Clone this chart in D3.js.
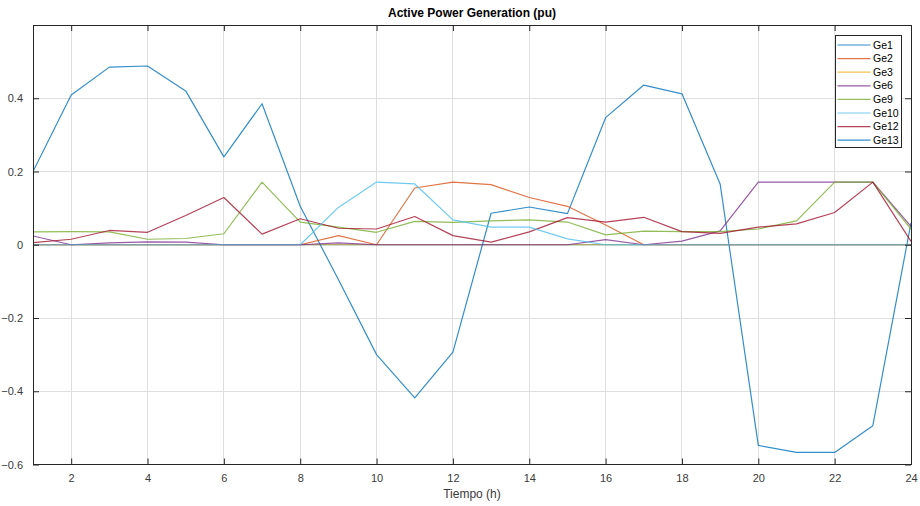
<!DOCTYPE html>
<html>
<head>
<meta charset="utf-8">
<script src="https://cdn.jsdelivr.net/npm/d3@7"></script>
<style>
  html, body { margin: 0; padding: 0; background: #ffffff; }
  svg { display: block; font-family: "Liberation Sans", Arial, Helvetica, sans-serif; }
</style>
</head>
<body>
<svg id="chart" width="920" height="506"></svg>
<script>
// ---- data ----
const hours = d3.range(1, 25);
const seriesNames = ["Ge1", "Ge2", "Ge3", "Ge6", "Ge9", "Ge10", "Ge12", "Ge13"];
const ge1  = [0.200, 0.409, 0.485, 0.488, 0.420, 0.240, 0.385, 0.105, -0.095, -0.300, -0.418, -0.293, 0.086, 0.103, 0.085, 0.347, 0.436, 0.412, 0.166, -0.548, -0.567, -0.567, -0.494, 0.060];
const ge2  = [0, 0, 0, 0, 0, 0, 0, 0, 0.025, 0, 0.155, 0.171, 0.164, 0.129, 0.105, 0.054, 0, 0, 0, 0, 0, 0, 0, 0];
const ge3  = [0, 0, 0, 0, 0, 0, 0, 0, 0, 0, 0, 0, 0, 0, 0, 0, 0, 0, 0, 0, 0, 0, 0, 0];
const ge6  = [0.024, 0, 0.005, 0.008, 0.007, 0, 0, 0, 0.005, 0, 0, 0, 0, 0, 0, 0.014, 0, 0.010, 0.038, 0.171, 0.171, 0.171, 0.171, 0.050];
const ge9  = [0.035, 0.036, 0.035, 0.015, 0.017, 0.030, 0.171, 0.062, 0.048, 0.034, 0.064, 0.061, 0.065, 0.068, 0.062, 0.027, 0.037, 0.036, 0.036, 0.043, 0.065, 0.171, 0.171, 0.043];
const ge10 = [0, 0, 0, 0, 0, 0, 0, 0, 0.102, 0.171, 0.166, 0.068, 0.048, 0.048, 0.016, 0, 0, 0, 0, 0, 0, 0, 0, 0];
const ge12 = [0.006, 0.015, 0.039, 0.034, 0.080, 0.129, 0.029, 0.071, 0.045, 0.043, 0.077, 0.025, 0.007, 0.035, 0.074, 0.062, 0.075, 0.036, 0.031, 0.048, 0.057, 0.088, 0.171, 0.009];
const ge13 = [0, 0, 0, 0, 0, 0, 0, 0, 0, 0, 0, 0, 0, 0, 0, 0, 0, 0, 0, 0, 0, 0, 0, 0];
const seriesValues = [ge1, ge2, ge3, ge6, ge9, ge10, ge12, ge13];
const seriesColors = ["#0072BD", "#D95319", "#EDB120", "#7E2F8E", "#77AC30", "#4DBEEE", "#A2142F", "#0072BD"];
const drawOrder = [7, 2, 0, 1, 3, 4, 6, 5];
const xTicks = d3.range(2, 25, 2);
const yTicks = [-0.6, -0.4, -0.2, 0, 0.2, 0.4];
const titleText = "Active Power Generation (pu)";
const xLabelText = "Tiempo (h)";

// ---- layout ----
const svg = d3.select("#chart");
const pL = 33, pR = 911, pT = 25, pB = 464.5;
const x = d3.scaleLinear().domain([1, 24]).range([pL, pR]);
const y = d3.scaleLinear().domain([-0.6, 0.6]).range([pB, pT]);
const axisColor = "#262626";

// grid
const grid = svg.append("g");
grid.selectAll("line.gx").data(xTicks).join("line")
  .attr("x1", d => x(d)).attr("x2", d => x(d)).attr("y1", pT).attr("y2", pB)
  .attr("stroke", "#dfdfdf").attr("stroke-width", 1).attr("shape-rendering", "crispEdges");
grid.selectAll("line.gy").data(yTicks).join("line")
  .attr("x1", pL).attr("x2", pR).attr("y1", d => y(d)).attr("y2", d => y(d))
  .attr("stroke", "#dfdfdf").attr("stroke-width", 1).attr("shape-rendering", "crispEdges");

// lines
svg.append("clipPath").attr("id", "clip").append("rect")
  .attr("x", pL).attr("y", pT).attr("width", pR - pL).attr("height", pB - pT);
const line = d3.line().x((d, i) => x(hours[i])).y(d => y(d));
const linesG = svg.append("g").attr("clip-path", "url(#clip)");
drawOrder.forEach(k => {
  linesG.append("path").datum(seriesValues[k])
    .attr("d", line).attr("fill", "none")
    .attr("stroke", seriesColors[k]).attr("stroke-width", 1.2).attr("stroke-opacity", 0.8)
    .attr("stroke-linejoin", "round");
});

// axes (ticks inside)
const tickLen = 6;
const fmtY = d => (d === 0 ? "0" : d3.format(".1f")(d));
svg.append("g").attr("transform", `translate(0,${pB})`)
  .call(d3.axisBottom(x).tickValues(xTicks).tickSize(-tickLen).tickPadding(10).tickFormat(d3.format("d")))
  .call(g => { g.select(".domain").remove(); g.selectAll("line").attr("stroke", axisColor);
               g.selectAll("text").attr("fill", "#3a3a3a").attr("font-size", 11); });
svg.append("g").attr("transform", `translate(0,${pT})`)
  .call(d3.axisTop(x).tickValues(xTicks).tickSize(-tickLen).tickFormat(""))
  .call(g => { g.select(".domain").remove(); g.selectAll("line").attr("stroke", axisColor); });
svg.append("g").attr("transform", `translate(${pL},0)`)
  .call(d3.axisLeft(y).tickValues(yTicks).tickSize(-tickLen).tickPadding(10).tickFormat(fmtY))
  .call(g => { g.select(".domain").remove(); g.selectAll("line").attr("stroke", axisColor);
               g.selectAll("text").attr("fill", "#3a3a3a").attr("font-size", 11); });
svg.append("g").attr("transform", `translate(${pR},0)`)
  .call(d3.axisRight(y).tickValues(yTicks).tickSize(-tickLen).tickFormat(""))
  .call(g => { g.select(".domain").remove(); g.selectAll("line").attr("stroke", axisColor); });

// box
svg.append("rect").attr("x", pL).attr("y", pT).attr("width", pR - pL).attr("height", pB - pT)
  .attr("fill", "none").attr("stroke", axisColor).attr("stroke-width", 1).attr("shape-rendering", "crispEdges");

// title and label
svg.append("text").attr("x", (pL + pR) / 2).attr("y", 17).attr("text-anchor", "middle")
  .attr("font-size", 12).attr("font-weight", "bold").attr("fill", "#000").text(titleText);
svg.append("text").attr("x", (pL + pR) / 2).attr("y", 498).attr("text-anchor", "middle")
  .attr("font-size", 12).attr("fill", "#3a3a3a").text(xLabelText);

// legend
const lg = svg.append("g");
const lgX = 835, lgY = 35, lgW = 66, rowH = 13.6;
lg.append("rect").attr("x", lgX).attr("y", lgY).attr("width", lgW).attr("height", rowH * seriesNames.length + 4)
  .attr("fill", "#fff").attr("stroke", axisColor).attr("stroke-width", 1).attr("shape-rendering", "crispEdges");
seriesNames.forEach((name, i) => {
  const cy = lgY + 10 + i * rowH;
  lg.append("line").attr("x1", lgX + 2.5).attr("x2", lgX + 35.5).attr("y1", cy).attr("y2", cy)
    .attr("stroke", seriesColors[i]).attr("stroke-width", 1.2).attr("stroke-opacity", 0.8);
  lg.append("text").attr("x", lgX + 38).attr("y", cy).attr("dy", "0.35em")
    .attr("font-size", 10.5).attr("fill", "#000").text(name);
});
</script>
</body>
</html>
